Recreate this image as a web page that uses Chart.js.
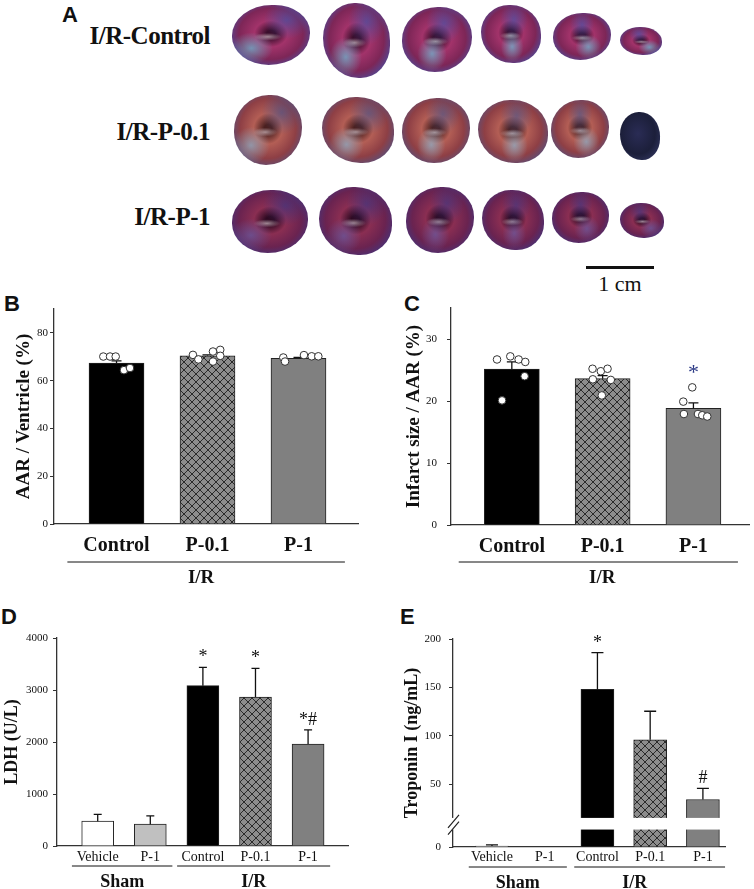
<!DOCTYPE html>
<html>
<head>
<meta charset="utf-8">
<script src="https://cdn.jsdelivr.net/npm/chart.js@4.4.1/dist/chart.umd.min.js"></script>
<style>
  body { margin:0; background:#fff; width:754px; height:889px; position:relative; overflow:hidden; }
  canvas { position:absolute; }
  .pl { position:absolute; font:bold 22px 'Liberation Sans', Arial, sans-serif; line-height:1; color:#111; }
  .rl { position:absolute; right:544px; font:bold 25px 'Liberation Serif', serif; line-height:1; color:#111; letter-spacing:-0.5px; white-space:nowrap; }
  .sl { position:absolute; border-radius:50%; }
  .bar1cm { position:absolute; left:586px; top:266px; width:68px; height:3px; background:#111; }
  .cm { position:absolute; left:586px; top:271px; width:68px; text-align:center; font:22px 'Liberation Serif', serif; color:#111; }
</style>
</head>
<body>
<div class="pl" style="left:62px;top:4px">A</div>
<div class="pl" style="left:4px;top:293px">B</div>
<div class="pl" style="left:404px;top:293px">C</div>
<div class="pl" style="left:1px;top:606px">D</div>
<div class="pl" style="left:400px;top:606px">E</div>

<div class="rl" style="top:23px">I/R-Control</div>
<div class="rl" style="top:119px">I/R-P-0.1</div>
<div class="rl" style="top:204px">I/R-P-1</div>
<div id="slices"></div>
<div class="bar1cm"></div>
<div class="cm">1 cm</div>

<canvas id="chartB" width="377" height="300" style="left:0;top:290px"></canvas>
<canvas id="chartC" width="377" height="300" style="left:377px;top:290px"></canvas>
<canvas id="chartD" width="377" height="299" style="left:0;top:590px"></canvas>
<canvas id="chartE" width="377" height="299" style="left:377px;top:590px"></canvas>

<script>
// ---- data ----
const irGroups = ['Control', 'P-0.1', 'P-1'];
const allGroups = ['Vehicle', 'P-1', 'Control', 'P-0.1', 'P-1'];

// B: AAR / ventricle (%)
const aarMean = [67.4, 70.4, 69.4];
const aarSem = [0.9, 0.4, 0.3];
const aarDots = [
  [70.1, 70.1, 70.1, 64.4, 65.3],
  [70.8, 68.9, 72.2, 72.9, 70.4, 68.0],
  [69.7, 68.0, 70.7, 70.2, 70.2]
];
const aarJitter = [
  [-0.145, -0.071, -0.009, 0.082, 0.148],
  [-0.16, -0.10, 0.06, 0.14, 0.14, 0.06],
  [-0.167, -0.148, 0.06, 0.145, 0.218]
];

// C: infarct size / AAR (%)
const infMean = [25.15, 23.6, 18.8];
const infSem = [1.15, 0.5, 0.9];
const infDots = [
  [26.7, 27.2, 26.7, 26.3, 24.0, 20.1],
  [25.2, 23.5, 24.8, 25.2, 23.4, 20.9],
  [22.2, 19.9, 17.9, 17.9, 17.7, 17.5]
];
const infJitter = [
  [-0.163, -0.017, 0.075, 0.148, 0.141, -0.108],
  [-0.111, -0.108, -0.02, 0.054, 0.09, -0.009],
  [-0.013, -0.112, -0.105, 0.05, 0.097, 0.152]
];
const infNotes = ['', '', '*'];

// D: LDH (U/L)
const ldhMean = [478, 420, 3083, 2865, 1960];
const ldhSem = [129, 160, 353, 551, 275];
const ldhNotes = ['', '', '*', '*', '*#'];

// E: Troponin I (ng/mL), broken axis
const tnMean = [1.0, 0, 148, 96, 34.5];
const tnSem = [1.2, 0, 38, 29.5, 11.4];
const tnNotes = ['', '', '*', '', '#'];

// ---- panel A: heart slices (photo stand-in) ----
const sliceRows = [
  { tone: ['#3a0e2c', '#a2336a', '#7d2657', '#3e57b0', '#6fb8d2'],
    boxes: [[232,5,78,60],[323,3,67,75],[402,7,70,65],[481,5,60,58],[553,13,58,47],[620,27,42,28]] },
  { tone: ['#4a2020', '#b35e55', '#8e3f45', '#45558f', '#8fb0c8'],
    boxes: [[234,95,68,70],[322,97,72,66],[402,98,68,65],[478,100,70,63],[551,100,58,58],[620,112,40,48]] },
  { tone: ['#2e0a22', '#8a2e52', '#6a2350', '#3a3888', '#6a5aa0'],
    boxes: [[232,190,76,63],[319,187,73,68],[406,187,68,66],[482,190,62,60],[552,192,57,51],[620,203,44,35]] }
];
const holder = document.getElementById('slices');
sliceRows.forEach(function(row, r) {
  row.boxes.forEach(function(b, i) {
    const d = document.createElement('div');
    d.className = 'sl';
    const t = row.tone;
    d.style.left = b[0] + 'px'; d.style.top = b[1] + 'px';
    d.style.width = b[2] + 'px'; d.style.height = b[3] + 'px';
    d.style.borderRadius = (i % 2 ? '48% 52% 45% 55%' : '52% 46% 54% 48%');
    d.style.background =
      'radial-gradient(ellipse at ' + (25 + i * 9) + '% 72%, ' + t[4] + 'bb 0, transparent 26%),' +
      'radial-gradient(ellipse at ' + (70 - i * 5) + '% 25%, ' + t[3] + '99 0, transparent 30%),' +
      'radial-gradient(ellipse 22% 8% at ' + (46 + i) + '% 53%, #e8d6dc99 0, transparent 80%),' +
      'radial-gradient(ellipse at 50% 48%, ' + t[0] + ' 0, ' + t[0] + ' 8%, ' + t[1] + ' 30%, ' + t[2] + ' 58%, ' + t[3] + ' 88%, #2a2f6a 100%)';
    if (r === 1 && i === 5) d.style.background = 'radial-gradient(ellipse at 45% 45%, #2a2c55 0, #1c1f3a 55%, #3a3f70 100%)';
    holder.appendChild(d);
  });
});

// ---- helpers ----
function hatch() {
  const c = document.createElement('canvas');
  c.width = 8; c.height = 8;
  const g = c.getContext('2d');
  g.fillStyle = '#8c8c8c';
  g.fillRect(0, 0, 8, 8);
  g.strokeStyle = '#2a2a2a';
  g.lineWidth = 1;
  g.beginPath();
  g.moveTo(0, 0); g.lineTo(8, 8);
  g.moveTo(8, 0); g.lineTo(0, 8);
  g.stroke();
  return g.createPattern(c, 'repeat');
}
const hatchFill = hatch();

const serif = "'Liberation Serif', 'Times New Roman', serif";

// error bars, significance marks, group lines, axis break (one per chart)
function decor(o) {
  return {
    id: 'decor',
    afterDatasetDraw(chart, args) {
      if (args.index !== 0) return;
      const ctx = chart.ctx, xs = chart.scales.x, ys = chart.scales.y;
      ctx.save();
      ctx.strokeStyle = '#111';
      ctx.lineWidth = 1.3;
      o.mean.forEach(function(m, i) {
        if (!o.sem[i]) return;
        const x = xs.getPixelForValue(i);
        const y0 = ys.getPixelForValue(o.tf(m));
        const y1 = ys.getPixelForValue(o.tf(m + o.sem[i]));
        ctx.beginPath();
        ctx.moveTo(x, y0); ctx.lineTo(x, y1);
        ctx.moveTo(x - o.cap, y1); ctx.lineTo(x + o.cap, y1);
        ctx.stroke();
      });
      ctx.restore();
    },
    afterDatasetsDraw(chart) {
      const ctx = chart.ctx, xs = chart.scales.x, ys = chart.scales.y, a = chart.chartArea;
      ctx.save();
      if (o.brk) {
        const yb = ys.getPixelForValue(o.brk[0]), yt = ys.getPixelForValue(o.brk[1]);
        ctx.fillStyle = '#fff';
        ctx.fillRect(a.left - 2, yt, a.right - a.left + 2, yb - yt);
        ctx.strokeStyle = '#222';
        ctx.lineWidth = 1.2;
        ctx.beginPath();
        ctx.moveTo(a.left - 5, yt + 10); ctx.lineTo(a.left + 6, yt - 3);
        ctx.moveTo(a.left - 5, yb + 5); ctx.lineTo(a.left + 6, yb - 8);
        ctx.stroke();
      }
      ctx.textAlign = 'center';
      ctx.textBaseline = 'alphabetic';
      (o.notes || []).forEach(function(t, i) {
        if (!t) return;
        let top = ys.getPixelForValue(o.tf(o.mean[i] + o.sem[i]));
        if (o.dots) top = Math.min(top, ys.getPixelForValue(Math.max.apply(null, o.dots[i])) - 3.5);
        ctx.fillStyle = o.noteColor || '#111';
        ctx.font = (o.noteSize || 18) + 'px ' + serif;
        ctx.fillText(t, xs.getPixelForValue(i), top - o.noteGap);
      });
      (o.groups || []).forEach(function(g) {
        const x0 = xs.getPixelForValue(g.from - o.ext[0]);
        const x1 = xs.getPixelForValue(g.to + o.ext[1]);
        ctx.strokeStyle = '#111';
        ctx.lineWidth = 1;
        ctx.beginPath();
        ctx.moveTo(x0, a.bottom + o.lineGap); ctx.lineTo(x1, a.bottom + o.lineGap);
        ctx.stroke();
        ctx.fillStyle = '#111';
        ctx.font = 'bold ' + o.groupSize + 'px ' + serif;
        ctx.textBaseline = 'middle';
        ctx.fillText(g.text, (x0 + x1) / 2 + (g.dx || 0), a.bottom + o.textGap);
        ctx.textBaseline = 'alphabetic';
      });
      ctx.restore();
    }
  };
}

function makeChart(id, cfg) {
  const datasets = [{
    type: 'bar',
    order: 2,
    data: cfg.mean.map(function(v, i) { return { x: i, y: cfg.tf(v) }; }),
    backgroundColor: cfg.colors,
    borderColor: '#222',
    borderWidth: 1,
    borderSkipped: 'bottom',
    barThickness: cfg.barW,
    base: cfg.yMin
  }];
  if (cfg.dots) {
    const pts = [];
    cfg.dots.forEach(function(list, i) {
      list.forEach(function(v, k) { pts.push({ x: i + cfg.jitter[i][k], y: v }); });
    });
    datasets.push({
      type: 'scatter',
      order: 1,
      data: pts,
      pointRadius: 3.8,
      pointBackgroundColor: '#fff',
      pointBorderColor: '#333',
      pointBorderWidth: 1
    });
  }
  return new Chart(document.getElementById(id), {
    type: 'bar',
    data: { datasets: datasets },
    plugins: [decor(cfg)],
    options: {
      responsive: false,
      animation: false,
      events: [],
      layout: { padding: { top: cfg.padTop, right: cfg.padRight, left: 0, bottom: 0 } },
      scales: {
        x: {
          type: 'linear',
          offset: false,
          min: cfg.xMin, max: cfg.xMax,
          grid: { display: false, drawTicks: false, tickLength: 0 },
          border: { display: true, color: '#333', width: 1.3 },
          afterBuildTicks: function(s) { s.ticks = cfg.labels.map(function(_, i) { return { value: i }; }); },
          afterFit: function(s) { s.height = cfg.xH; },
          ticks: {
            autoSkip: false, maxRotation: 0, padding: cfg.xPad, color: '#111',
            font: { family: serif, size: cfg.xSize, weight: cfg.xBold ? 'bold' : 'normal' },
            callback: function(v) { return cfg.labels[v]; }
          }
        },
        y: {
          min: cfg.yMin, max: cfg.yMax,
          afterBuildTicks: function(s) { s.ticks = cfg.yTicks.map(function(v) { return { value: v }; }); },
          afterFit: function(s) { s.width = cfg.yW; },
          grid: { display: true, drawOnChartArea: false, drawTicks: true, tickLength: 4, color: '#333', lineWidth: 1 },
          border: { display: true, color: '#333', width: 1.3 },
          ticks: {
            padding: cfg.yPad, color: '#111',
            font: { family: serif, size: 11 },
            callback: function(v) { return cfg.yLabel ? cfg.yLabel(v) : v; }
          },
          title: {
            display: true, text: cfg.title, color: '#111',
            font: { family: serif, size: cfg.titleSize, weight: 'bold' },
            padding: { top: cfg.titlePad, bottom: 0 }
          }
        }
      },
      plugins: {
        legend: { display: false },
        tooltip: { enabled: false }
      }
    }
  });
}

const same = function(v) { return v; };

makeChart('chartB', {
  labels: irGroups, mean: aarMean, sem: aarSem, tf: same, dots: aarDots, jitter: aarJitter,
  colors: ['#000', hatchFill, '#808080'], barW: 55, cap: 5,
  xMin: -0.687, xMax: 2.654, yMin: 0, yMax: 90, yTicks: [0, 20, 40, 60, 80],
  padTop: 19, padRight: 19, yW: 54, xH: 66, xPad: 10, xSize: 20, xBold: true, yPad: 2,
  title: 'AAR / Ventricle (%)', titleSize: 19, titlePad: 13,
  groups: [{ text: 'I/R', from: 0, to: 2, dx: -5 }], ext: [0.54, 0.51], lineGap: 38, textGap: 54, groupSize: 19
});

makeChart('chartC', {
  labels: irGroups, mean: infMean, sem: infSem, tf: same, dots: infDots, jitter: infJitter,
  colors: ['#000', hatchFill, '#808080'], barW: 55, cap: 5,
  xMin: -0.670, xMax: 2.612, yMin: 0, yMax: 35, yTicks: [0, 10, 20, 30],
  padTop: 18, padRight: 5, yW: 74, xH: 65, xPad: 10, xSize: 20, xBold: true, yPad: 10,
  title: 'Infarct size / AAR (%)', titleSize: 19, titlePad: 26,
  notes: infNotes, noteColor: '#2c3a86', noteGap: 5, noteSize: 22,
  groups: [{ text: 'I/R', from: 0, to: 2, dx: 4 }], ext: [0.585, 0.49], lineGap: 37, textGap: 53, groupSize: 19
});

makeChart('chartD', {
  labels: allGroups, mean: ldhMean, sem: ldhSem, tf: same,
  colors: ['#fff', '#c0c0c0', '#000', hatchFill, '#808080'], barW: 32, cap: 4,
  xMin: -0.774, xMax: 4.759, yMin: 0, yMax: 4000, yTicks: [0, 1000, 2000, 3000, 4000],
  padTop: 48, padRight: 29, yW: 57, xH: 43, xPad: 3, xSize: 14, xBold: false, yPad: 5,
  title: 'LDH (U/L)', titleSize: 18, titlePad: 2,
  notes: ldhNotes, noteGap: 5,
  groups: [{ text: 'Sham', from: 0, to: 1 }, { text: 'I/R', from: 2, to: 4 }],
  ext: [0.49, 0.42], lineGap: 20, textGap: 36, groupSize: 18
});

const tnMin = -14.5;
const tnShift = function(v) { return v < 15 ? v + tnMin : v; };
makeChart('chartE', {
  labels: allGroups, mean: tnMean, sem: tnSem, tf: tnShift,
  colors: ['#fff', '#c0c0c0', '#000', hatchFill, '#808080'], barW: 33, cap: 6,
  xMin: -0.739, xMax: 4.419, yMin: tnMin, yMax: 200, yTicks: [tnMin, 50, 100, 150, 200],
  yLabel: function(v) { return v < 0 ? '0' : v; },
  padTop: 49, padRight: 29, yW: 76, xH: 42, xPad: 2, xSize: 14, xBold: false, yPad: 8,
  title: 'Troponin I (ng/mL)', titleSize: 18, titlePad: 25,
  notes: tnNotes, noteGap: 5, brk: [3.5, 15.5],
  groups: [{ text: 'Sham', from: 0, to: 1 }, { text: 'I/R', from: 2, to: 4, dx: -15 }],
  ext: [0.44, 0.42], lineGap: 20, textGap: 36, groupSize: 18
});
</script>
</body>
</html>
